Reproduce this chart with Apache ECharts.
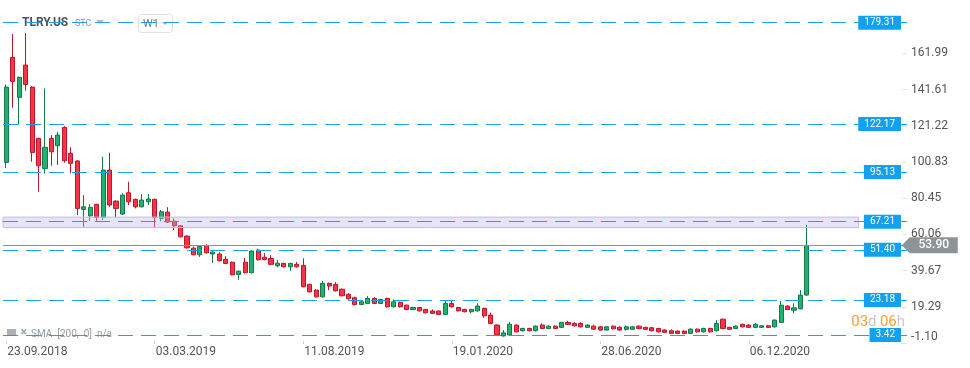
<!DOCTYPE html>
<html>
<head>
<meta charset="utf-8">
<script src="https://cdn.jsdelivr.net/npm/echarts@6/dist/echarts.min.js"></script>
<style>
html,body{margin:0;padding:0;background:#fff;}
#chart{width:970px;height:368px;}
</style>
</head>
<body>
<div id="chart"></div>
<script>
// ---- data ----
const startDate = '2018-09-23';
const totalSlots = 140; // weekly slots on the axis (data + empty future space)
const opens = [100.6,159.7,137.2,155.4,143.0,114.1,97.2,114.1,110.0,120.3,105.7,101.4,74.1,70.5,77.0,69.6,96.3,78.8,71.5,83.5,79.8,75.6,78.4,79.8,69.1,72.6,67.5,64.9,59.1,52.3,48.6,53.8,49.0,49.0,46.0,44.4,37.5,44.4,38.5,51.2,47.2,46.5,42.4,43.7,41.8,43.2,42.6,31.9,28.7,24.9,32.5,31.9,29.2,26.3,24.4,20.6,21.2,24.0,21.2,24.0,19.3,21.8,20.2,17.8,18.9,17.8,16.9,16.9,15.0,21.2,18.9,17.8,16.5,17.0,18.4,14.6,9.0,2.9,3.4,9.0,5.8,7.1,5.8,9.0,7.1,8.4,7.7,10.5,9.9,9.9,7.7,8.4,8.0,6.2,8.4,7.7,6.6,6.6,8.4,7.7,7.5,7.1,6.2,5.8,5.6,5.6,4.3,6.7,5.2,7.1,5.8,12.3,7.7,7.1,9.4,9.0,7.7,7.7,8.6,8.0,10.5,19.7,17.4,18.2,25.9];
const closes = [143.0,146.2,148.5,144.5,106.2,98.7,109.1,106.6,116.0,101.5,100.1,74.7,75.6,75.3,69.6,96.3,76.6,74.7,82.2,78.4,75.6,79.4,80.0,69.6,72.8,67.0,64.9,58.7,52.5,48.6,53.2,49.7,50.1,45.2,43.7,37.3,39.3,38.5,50.7,45.8,45.9,43.2,43.8,41.8,43.7,41.8,30.6,27.7,24.9,32.5,31.0,28.3,25.5,23.8,20.6,22.1,24.0,21.2,23.4,19.3,22.1,19.3,17.8,18.9,17.0,15.9,15.6,15.0,21.2,19.3,17.0,16.5,17.8,19.7,14.2,9.9,3.4,4.6,9.5,5.2,7.1,5.8,8.4,7.1,8.4,7.1,10.5,9.4,8.6,8.0,9.0,6.7,6.2,8.0,6.9,6.2,8.0,8.0,7.1,6.6,5.8,5.2,4.9,4.3,4.3,4.3,6.7,5.2,7.1,5.2,9.9,7.1,6.6,8.4,8.0,7.7,9.4,8.6,7.7,11.8,20.2,17.8,18.7,25.9,53.9];
const lows = [97.4,131.4,122.0,141.0,101.0,84.1,94.4,98.7,99.1,100.4,94.4,70.9,64.3,67.7,67.7,68.1,75.6,69.6,71.0,76.6,74.7,75.2,76.6,64.0,67.5,66.5,62.5,58.3,52.0,48.2,47.4,49.3,43.9,44.8,43.3,37.0,34.5,38.1,38.1,45.4,45.5,42.8,41.5,41.4,39.6,41.4,30.2,27.3,24.5,24.5,28.7,27.9,25.1,23.4,20.0,20.2,20.8,20.8,20.8,18.9,18.9,18.9,17.4,17.4,16.6,15.5,15.2,14.6,14.6,18.9,16.6,16.1,15.5,16.6,13.1,9.5,3.0,2.5,3.0,4.8,5.4,5.4,5.4,6.7,6.7,6.7,7.3,9.0,8.2,7.6,7.3,6.3,5.8,5.8,6.5,5.8,5.8,6.2,6.7,6.2,5.4,4.8,4.5,3.9,3.9,3.9,3.9,4.8,4.8,4.8,5.4,6.7,6.2,6.7,7.6,7.3,7.3,7.3,7.3,7.6,10.1,17.4,15.6,17.8,25.5];
const highs = [144.5,172.9,149.0,173.4,143.5,114.5,142.3,116.0,117.8,121.0,109.1,101.9,82.2,77.1,77.3,103.8,106.0,79.2,83.2,89.7,80.2,82.8,82.8,80.2,73.8,75.4,69.1,65.3,59.5,53.2,53.6,54.5,50.5,50.0,47.8,44.8,39.7,46.7,51.1,52.0,49.5,48.4,45.6,44.1,44.1,44.5,46.5,32.3,29.1,33.8,32.9,33.2,29.6,27.0,25.0,22.5,25.3,24.8,23.8,24.4,23.4,22.2,20.6,19.3,19.3,18.2,17.8,17.3,22.5,23.0,19.3,18.2,18.2,21.2,18.8,16.0,9.4,6.2,10.8,9.4,7.5,7.5,8.8,10.0,8.8,8.8,10.9,11.4,10.6,10.6,9.4,9.2,8.4,8.4,8.8,8.4,8.8,8.4,8.8,8.1,7.9,7.5,6.6,6.6,6.0,6.0,7.1,7.1,7.5,7.5,11.8,12.7,8.1,8.8,9.8,9.4,10.2,9.0,9.0,12.2,22.7,20.1,21.2,28.7,65.5];
const levelLines = [179.31, 122.17, 95.13, 67.21, 51.40, 23.18, 3.42];
const lastPrice = 53.90;
const zoneLow = 63.9, zoneHigh = 69.8;
const zoneEndSlot = 132;
const yTickValues = [-1.10, 19.29, 39.67, 60.06, 80.45, 100.83, 121.22, 141.61, 161.99];
const xLabelEvery = 23;

// ---- build ----
function pad(n){return n<10?'0'+n:''+n;}
const categories = [];
{
  const t0 = Date.parse(startDate + 'T00:00:00Z');
  for (let i = 0; i < totalSlots; i++) {
    const d = new Date(t0 + i * 7 * 86400000);
    categories.push(pad(d.getUTCDate()) + '.' + pad(d.getUTCMonth() + 1) + '.' + d.getUTCFullYear());
  }
}
const lastIdx = opens.length - 1;
const candleData = opens.map((o, i) => [o, closes[i], lows[i], highs[i]]);
const showIdx = (idx) => idx % xLabelEvery === 0 && idx <= lastIdx;

const FONT = 'Roboto, "Noto Sans", sans-serif';
const chart = echarts.init(document.getElementById('chart'), null, {renderer: 'canvas'});

const lineData = levelLines.map(v => ({
  yAxis: v,
  lineStyle: {color: '#1aa3ec', width: 1, type: [15, 8]},
  label: {
    show: true, position: 'insideEnd', distance: 6,
    formatter: v.toFixed(2), color: '#fff', fontSize: 10, fontFamily: FONT,
    backgroundColor: '#12a1ee', padding: [1, 6, 1, 6], lineHeight: 12
  }
}));
lineData.push({
  yAxis: lastPrice,
  lineStyle: {color: '#8d9497', width: 1, type: 'solid'},
  label: {show: false}
});

chart.setOption({
  backgroundColor: '#fff',
  animation: false,
  grid: {left: 3, right: 63, top: 0, bottom: 25},
  xAxis: {
    type: 'category',
    data: categories,
    boundaryGap: true,
    axisLine: {show: false},
    axisTick: {show: true, alignWithLabel: true, interval: showIdx, length: 3, lineStyle: {color: '#cfcfcf'}},
    axisLabel: {
      interval: showIdx, align: 'left', margin: 3, padding: [0, 0, 0, 1],
      color: '#555', fontSize: 12, fontFamily: FONT,
      formatter: (v, idx) => (idx <= lastIdx ? v : '')
    },
    splitLine: {show: false}
  },
  yAxis: {
    type: 'value',
    position: 'right',
    min: -1.10,
    max: 192.06,
    axisLine: {show: false},
    splitLine: {show: false},
    axisTick: {show: true, inside: true, length: 5, customValues: yTickValues, lineStyle: {color: '#e2e2e2'}},
    axisLabel: {
      customValues: yTickValues, margin: 4, color: '#555', fontSize: 12, fontFamily: FONT,
      formatter: v => (v < 0 ? '{lo|' + v.toFixed(2) + '}' : v.toFixed(2)),
      rich: {lo: {padding: [0, 0, 12, 0], color: '#555', fontSize: 12, fontFamily: FONT}}
    }
  },
  series: [{
    type: 'candlestick',
    data: candleData,
    barWidth: 4.6,
    itemStyle: {
      color: '#22b073', color0: '#fb3445',
      borderColor: '#137a47', borderColor0: '#b9172b', borderWidth: 1
    },
    markArea: {
      silent: true,
      z: 3,
      itemStyle: {color: 'rgba(190,178,232,0.35)', borderColor: '#c6bde3', borderWidth: 1},
      data: [[{yAxis: zoneHigh}, {xAxis: zoneEndSlot, yAxis: zoneLow}]]
    },
    markLine: {
      silent: true,
      symbol: ['none', 'none'],
      animation: false,
      data: lineData
    },
    markPoint: {
      silent: true,
      data: [{
        coord: [totalSlots - 1, lastPrice],
        symbol: 'path://M0,8L8,0L56,0L56,16L8,16Z',
        symbolSize: [56, 16],
        symbolOffset: [26, 0],
        itemStyle: {color: '#8d9497'},
        label: {show: true, position: 'inside', offset: [4, 0], formatter: lastPrice.toFixed(2), color: '#fff', fontSize: 12, fontWeight: 500, fontFamily: FONT}
      }]
    }
  }],
  graphic: [
    {type: 'text', z: 1, style: {x: 22, y: 23, text: 'TLRY.US', font: 'bold 12px ' + FONT, fill: '#4d535a', verticalAlign: 'middle'}},
    {type: 'text', z: 1, style: {x: 75, y: 24, text: 'STC', font: '9px ' + FONT, fill: '#8a9aa8', verticalAlign: 'middle'}},
    {type: 'polygon', z: 1, shape: {points: [[96, 20], [104, 20], [100, 24]]}, style: {fill: '#bbbbbb'}},
    {type: 'rect', z: 1, shape: {x: 138.5, y: 14.5, width: 34, height: 18, r: 3}, style: {fill: '#fff', stroke: '#e0e0e0'}},
    {type: 'text', z: 1, style: {x: 143, y: 24, text: 'W1', font: '11px ' + FONT, fill: '#777', verticalAlign: 'middle'}},
    {type: 'polygon', z: 1, shape: {points: [[162, 22], [168, 22], [165, 25]]}, style: {fill: '#aaaaaa'}},
    {type: 'rect', z: 1, shape: {x: 7, y: 329, width: 9, height: 6}, style: {fill: '#b0b0b0'}},
    {type: 'text', z: 1, style: {x: 20, y: 333, text: '✖', font: '9px ' + FONT, fill: '#b0b0b0', verticalAlign: 'middle'}},
    {type: 'text', z: 1, style: {x: 31, y: 334, text: 'SMA  [200,  0]  n/a', font: '10px ' + FONT, fill: '#999', verticalAlign: 'middle'}},
    {type: 'text', z: 1, style: {
      x: 905, y: 322, align: 'right', verticalAlign: 'middle',
      text: '{o|03}{g|d} {o|06}{g|h}',
      rich: {o: {fontSize: 15, fontFamily: FONT, fill: '#f7a12e'}, g: {fontSize: 15, fontFamily: FONT, fill: '#c9c9c9'}}
    }}
  ]
});
</script>
</body>
</html>
